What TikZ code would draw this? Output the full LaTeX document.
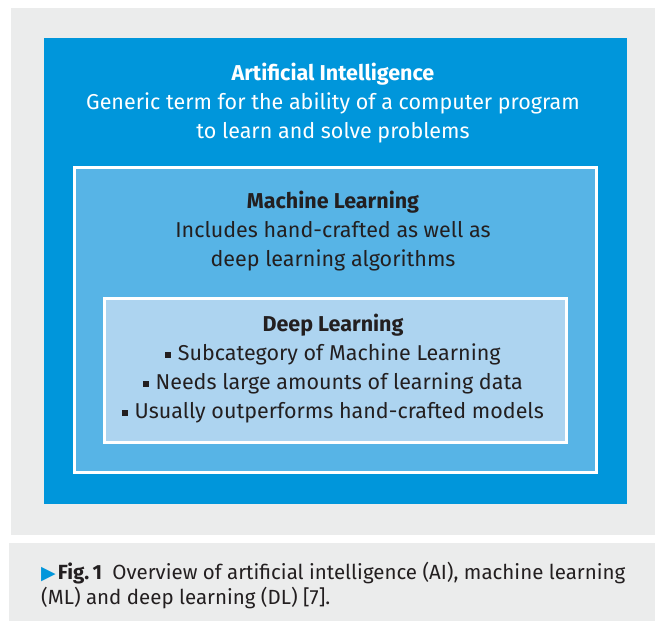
\documentclass[tikz,border=0pt]{standalone}
\usepackage{fontspec}
\setmainfont{Fira Sans}
\newfontfamily\symfont{DejaVu Sans}
\usepackage{tikz}
\usetikzlibrary{positioning}
\usepackage{xcolor}
\definecolor{AIBlue}{RGB}{0,150,219}
\definecolor{MLBlue}{RGB}{87,180,230}
\definecolor{DLBlue}{RGB}{173,212,240}
\definecolor{PanelGrey}{RGB}{235,236,236}
\definecolor{TextDark}{RGB}{35,31,32}
\tikzstyle{panel} = [rectangle, fill=PanelGrey, draw=none, anchor=north west, inner sep=0pt]
\tikzstyle{field} = [rectangle, anchor=north west, inner sep=0pt, line width=3pt]
\tikzstyle{label} = [align=center, inner sep=0pt, font=\fontsize{21.5}{29}\selectfont]
\newcommand{\sqbullet}{\raisebox{0.25ex}{\rule{0.28em}{0.28em}}\hspace{0.3em}}

\begin{document}
\begin{tikzpicture}[x=1pt,y=-1pt]
   \useasboundingbox (0,0) rectangle (660,623);
   \node[panel,minimum width=644pt,minimum height=527pt] (figpanel) at (11,8) {};
   \node[panel,minimum width=646pt,minimum height=78pt] (cappanel) at (9,543) {};
   \node[field,fill=AIBlue,minimum width=583pt,minimum height=465pt] (ai) at (42,37) {};
   \node[field,fill=MLBlue,draw=white,minimum width=522pt,minimum
    height=305pt] (ml) at (73,166) {};
   \node[field,fill=DLBlue,draw=white,minimum width=462pt,minimum
    height=144pt] (dl) at (103,297) {};
   \node[label,white] (aitext) at (333,103) {\textbf{Artificial Intelligence}\\
    Generic term for the ability of a computer program\\ to learn and solve problems};
   \node[label,TextDark] (mltext) at (333,231) {\textbf{Machine Learning}\\
    Includes hand-crafted as well as\\ deep learning algorithms};
   \node[label,TextDark] (dltext) at (333,369) {\textbf{Deep Learning}\\
    \sqbullet Subcategory of Machine Learning\\
    \sqbullet Needs large amounts of learning data\\
    \sqbullet Usually outperforms hand-crafted models};
   \node[align=left,anchor=west,inner sep=0pt,TextDark,font=\fontsize{20.5}{25}\selectfont]
    (caption) at (41,586) {{\color{AIBlue}\symfont\fontsize{19}{25}\selectfont ▶}\hspace{0.1em}\textbf{Fig.\,1}\enspace
    Overview of artificial intelligence (AI), machine learning\\
    (ML) and deep learning (DL) [7].};
  \end{tikzpicture}
\end{document}
